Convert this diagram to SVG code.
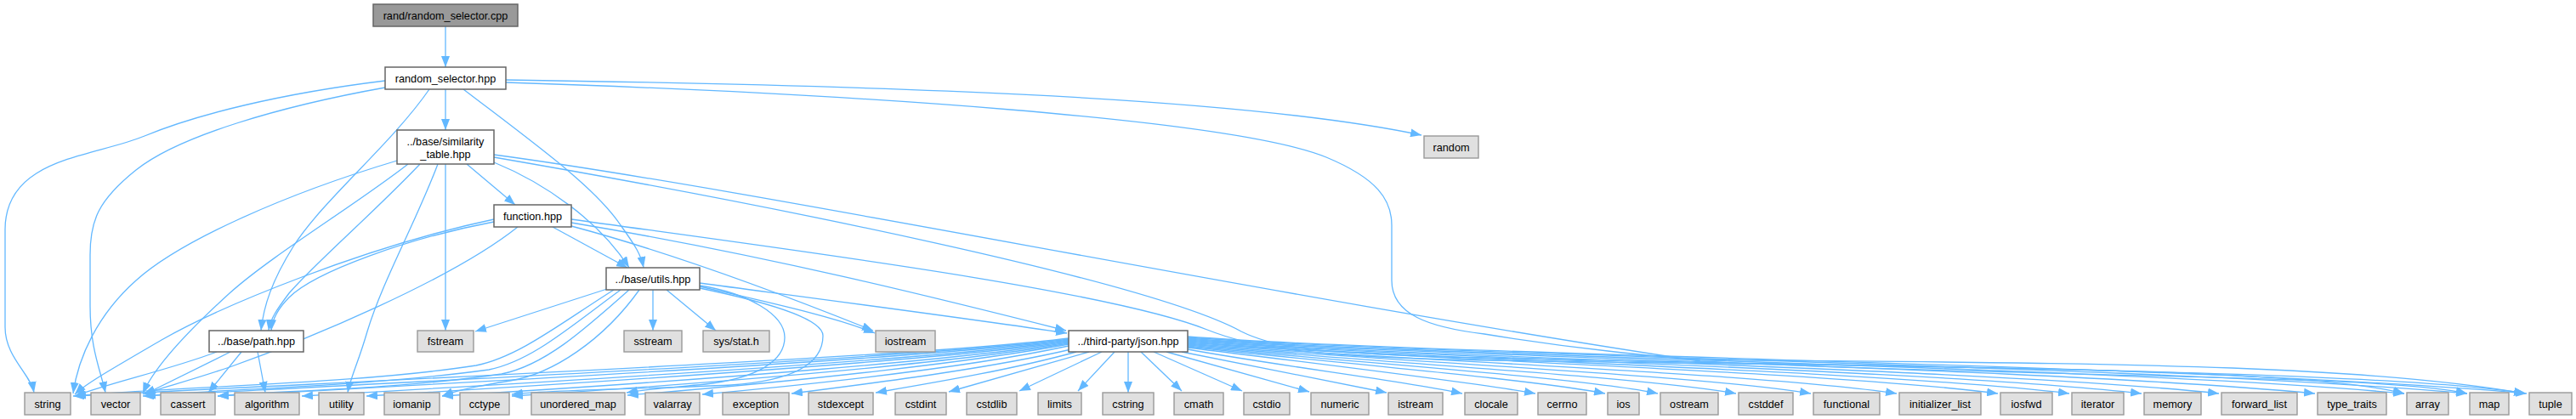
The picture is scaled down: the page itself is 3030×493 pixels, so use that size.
<svg xmlns="http://www.w3.org/2000/svg" width="3030" height="493" viewBox="0 0 3030 493">
<style>
.n{fill:#ffffff;stroke:#666666;stroke-width:1.5}
.x{fill:#e0e0e0;stroke:#999999;stroke-width:1.4}
.r{fill:#999999;stroke:#666666;stroke-width:1.5}
text{font-family:"Liberation Sans",Arial,Helvetica,sans-serif;font-size:12.7px;fill:#000000;text-anchor:middle}
#edges path{fill:none;stroke:#63b8ff;stroke-width:1.3;marker-end:url(#a)}
</style>
<defs>
<marker id="a" markerWidth="13" markerHeight="10" refX="13" refY="5" orient="auto" markerUnits="userSpaceOnUse">
<path d="M0,0 L13,5 L0,10 z" fill="#63b8ff" stroke="none"/>
</marker>
</defs>
<rect width="3030" height="493" fill="#ffffff"/>
<g id="edges">
<path d="M524,31 L524,79"/>
<path d="M524,105 L524,153"/>
<path d="M453,95 C 330,110 230,135 170,160 C 110,185 6,185 6,270 L 6,385 C 6,420 36,440 40,462"/>
<path d="M453,103 C 330,125 210,160 160,200 C 115,236 106,260 106,300 L 106,360 C 106,410 118,435 124,462"/>
<path d="M505,105 C 460,170 380,235 345,290 C 320,330 310,360 307,389"/>
<path d="M545,105 C 630,170 700,220 730,265 C 748,290 754,300 757,315"/>
<path d="M595,94 C 1000,100 1450,112 1672,159"/>
<path d="M595,97 C 1000,110 1450,140 1560,185 C 1620,210 1637,235 1637,265 L 1637,330 C 1637,370 1680,385 1746,393 C 1850,410 1950,420 2000,423 C 2400,428 2750,425 2970,463"/>
<path d="M549,193 L 606,241"/>
<path d="M524,193 L 524,389"/>
<path d="M515,193 C 490,260 450,330 432,390 C 422,425 412,445 409,462"/>
<path d="M494,193 C 440,250 370,310 340,345 C 325,365 318,375 316,389"/>
<path d="M480,193 C 420,240 320,300 270,345 C 215,395 180,435 168,463"/>
<path d="M467,189 C 330,230 210,285 160,330 C 115,370 92,420 86,463"/>
<path d="M581,191 C 640,215 705,260 740,315"/>
<path d="M581,182 C 900,225 1500,350 2000,425 C 2400,445 2800,440 2902,463"/>
<path d="M581,185 C 900,240 1350,330 1460,390 C 1500,410 1550,415 1700,420 C 2200,432 2800,435 2970,463"/>
<path d="M650,267 L 738,315"/>
<path d="M581,261 C 480,280 370,320 340,350 C 325,365 320,377 319,389"/>
<path d="M581,258 C 430,290 260,360 190,400 C 130,435 100,452 88,464"/>
<path d="M609,267 C 530,330 360,400 270,432 C 220,449 190,456 168,464"/>
<path d="M672,266 C 800,300 930,350 1027,389"/>
<path d="M672,262 C 900,300 1100,350 1254,389"/>
<path d="M672,258 C 900,290 1300,340 1420,388 C 1470,408 1530,418 1700,423 C 2200,432 2700,430 2828,463"/>
<path d="M714,340 L 559,390"/>
<path d="M768,341 L 768,389"/>
<path d="M784,341 L 842,389"/>
<path d="M823,337 C 900,355 980,372 1029,392"/>
<path d="M823,333 C 950,350 1120,372 1255,392"/>
<path d="M722,341 C 660,380 610,420 560,430 C 420,452 200,455 88,466"/>
<path d="M730,341 C 670,385 625,425 575,435 C 430,455 250,458 170,466"/>
<path d="M740,341 C 685,390 640,430 590,440 C 470,458 320,460 256,466"/>
<path d="M752,341 C 710,400 650,440 600,448 C 570,453 540,458 520,466"/>
<path d="M823,336 C 880,345 923,370 923,397 C 923,425 890,445 830,452 C 790,456 760,458 737,462"/>
<path d="M823,339 C 900,355 968,375 968,395 C 968,430 930,448 860,453 C 760,458 650,458 602,464"/>
<path d="M255,414 C 200,435 130,450 88,466"/>
<path d="M271,414 L 170,464"/>
<path d="M284,414 L 245,462"/>
<path d="M303,414 L 312,462"/>
<path d="M1257,398 C 1100,418 600,440 86,466"/>
<path d="M1257,399 C 1100,419 650,441 168,466"/>
<path d="M1257,400 C 1100,420 700,442 256,466"/>
<path d="M1257,401 C 1110,421 760,443 355,466"/>
<path d="M1257,402 C 1120,422 800,444 431,466"/>
<path d="M1257,403 C 1130,423 850,446 520,466"/>
<path d="M1257,404 C 1140,424 900,447 602,466"/>
<path d="M1257,405 C 1150,425 950,448 738,465"/>
<path d="M1257,407 C 1160,428 1000,448 826,464"/>
<path d="M1260,411 C 1170,432 1050,448 931,463"/>
<path d="M1266,414 C 1190,435 1100,450 1030,462"/>
<path d="M1281,414 L 1116,461"/>
<path d="M1296,414 L 1199,460"/>
<path d="M1311,414 L 1268,460"/>
<path d="M1327,414 L 1327,462"/>
<path d="M1342,414 L 1390,460"/>
<path d="M1357,414 L 1461,460"/>
<path d="M1372,414 L 1540,461"/>
<path d="M1390,414 L 1631,462"/>
<path d="M1397,411 C 1500,430 1650,448 1720,463"/>
<path d="M1397,409 C 1550,428 1720,448 1806,463"/>
<path d="M1397,408 C 1560,426 1800,446 1888,463"/>
<path d="M1397,407 C 1570,425 1860,444 1950,463"/>
<path d="M1397,406 C 1580,424 1920,442 2042,463"/>
<path d="M1397,405 C 1590,423 1990,440 2130,463"/>
<path d="M1397,404 C 1600,422 2060,438 2231,463"/>
<path d="M1397,403 C 1610,421 2140,436 2350,463"/>
<path d="M1397,402 C 1620,421 2200,435 2434,463"/>
<path d="M1397,401 C 1630,420 2260,434 2519,463"/>
<path d="M1397,400 C 1640,420 2330,433 2610,463"/>
<path d="M1397,399 C 1650,419 2400,432 2723,463"/>
<path d="M1397,398 C 1660,419 2480,431 2828,463"/>
<path d="M1397,397 C 1670,418 2540,430 2902,463"/>
<path d="M1397,396 C 1680,418 2600,429 2972,463"/>
</g>
<g id="n_cpp"><rect class="r" x="439" y="5" width="170" height="26"/><text x="524" y="22.5">rand/random_selector.cpp</text></g>
<g id="n_rs"><rect class="n" x="453" y="79" width="142" height="26"/><text x="524" y="96.5">random_selector.hpp</text></g>
<g id="n_sim"><rect class="n" x="467" y="153" width="114" height="40"/><text x="524" y="171">../base/similarity</text><text x="524" y="186">_table.hpp</text></g>
<g id="n_fn"><rect class="n" x="581" y="241" width="91" height="26"/><text x="626.5" y="258.5">function.hpp</text></g>
<g id="n_utils"><rect class="n" x="713" y="315" width="110" height="26"/><text x="768" y="332.5">../base/utils.hpp</text></g>
<g id="n_path"><rect class="n" x="246" y="389" width="111" height="25"/><text x="301.5" y="406">../base/path.hpp</text></g>
<g id="n_json"><rect class="n" x="1257" y="389" width="140" height="25"/><text x="1327" y="406">../third-party/json.hpp</text></g>
<g id="n_fstream"><rect class="x" x="491" y="389" width="66" height="25"/><text x="524" y="406">fstream</text></g>
<g id="n_sstream"><rect class="x" x="734" y="389" width="68" height="25"/><text x="768" y="406">sstream</text></g>
<g id="n_sysstat"><rect class="x" x="827" y="389" width="78" height="25"/><text x="866" y="406">sys/stat.h</text></g>
<g id="n_iostream"><rect class="x" x="1030" y="389" width="70" height="25"/><text x="1065" y="406">iostream</text></g>
<g id="n_random"><rect class="x" x="1675" y="160" width="64" height="26"/><text x="1707" y="177.5">random</text></g>
<g id="n_string"><rect class="x" x="29" y="462" width="54" height="26"/><text x="56" y="479.5">string</text></g>
<g id="n_vector"><rect class="x" x="107" y="462" width="58" height="26"/><text x="136" y="479.5">vector</text></g>
<g id="n_cassert"><rect class="x" x="189" y="462" width="64" height="26"/><text x="221" y="479.5">cassert</text></g>
<g id="n_algorithm"><rect class="x" x="276" y="462" width="76" height="26"/><text x="314" y="479.5">algorithm</text></g>
<g id="n_utility"><rect class="x" x="375" y="462" width="53" height="26"/><text x="401.5" y="479.5">utility</text></g>
<g id="n_iomanip"><rect class="x" x="452" y="462" width="65" height="26"/><text x="484.5" y="479.5">iomanip</text></g>
<g id="n_cctype"><rect class="x" x="541" y="462" width="58" height="26"/><text x="570" y="479.5">cctype</text></g>
<g id="n_unordered_map"><rect class="x" x="625" y="462" width="110" height="26"/><text x="680" y="479.5">unordered_map</text></g>
<g id="n_valarray"><rect class="x" x="759" y="462" width="64" height="26"/><text x="791" y="479.5">valarray</text></g>
<g id="n_exception"><rect class="x" x="850" y="462" width="78" height="26"/><text x="889" y="479.5">exception</text></g>
<g id="n_stdexcept"><rect class="x" x="951" y="462" width="76" height="26"/><text x="989" y="479.5">stdexcept</text></g>
<g id="n_cstdint"><rect class="x" x="1053" y="462" width="60" height="26"/><text x="1083" y="479.5">cstdint</text></g>
<g id="n_cstdlib"><rect class="x" x="1137" y="462" width="59" height="26"/><text x="1166.5" y="479.5">cstdlib</text></g>
<g id="n_limits"><rect class="x" x="1221" y="462" width="51" height="26"/><text x="1246.5" y="479.5">limits</text></g>
<g id="n_cstring"><rect class="x" x="1297" y="462" width="60" height="26"/><text x="1327" y="479.5">cstring</text></g>
<g id="n_cmath"><rect class="x" x="1381" y="462" width="58" height="26"/><text x="1410" y="479.5">cmath</text></g>
<g id="n_cstdio"><rect class="x" x="1463" y="462" width="54" height="26"/><text x="1490" y="479.5">cstdio</text></g>
<g id="n_numeric"><rect class="x" x="1542" y="462" width="68" height="26"/><text x="1576" y="479.5">numeric</text></g>
<g id="n_istream"><rect class="x" x="1633" y="462" width="64" height="26"/><text x="1665" y="479.5">istream</text></g>
<g id="n_clocale"><rect class="x" x="1723" y="462" width="62" height="26"/><text x="1754" y="479.5">clocale</text></g>
<g id="n_cerrno"><rect class="x" x="1809" y="462" width="57" height="26"/><text x="1837.5" y="479.5">cerrno</text></g>
<g id="n_ios"><rect class="x" x="1891" y="462" width="37" height="26"/><text x="1909.5" y="479.5">ios</text></g>
<g id="n_ostream"><rect class="x" x="1953" y="462" width="68" height="26"/><text x="1987" y="479.5">ostream</text></g>
<g id="n_cstddef"><rect class="x" x="2045" y="462" width="64" height="26"/><text x="2077" y="479.5">cstddef</text></g>
<g id="n_functional"><rect class="x" x="2133" y="462" width="78" height="26"/><text x="2172" y="479.5">functional</text></g>
<g id="n_initializer_list"><rect class="x" x="2234" y="462" width="96" height="26"/><text x="2282" y="479.5">initializer_list</text></g>
<g id="n_iosfwd"><rect class="x" x="2353" y="462" width="61" height="26"/><text x="2383.5" y="479.5">iosfwd</text></g>
<g id="n_iterator"><rect class="x" x="2437" y="462" width="61" height="26"/><text x="2467.5" y="479.5">iterator</text></g>
<g id="n_memory"><rect class="x" x="2522" y="462" width="67" height="26"/><text x="2555.5" y="479.5">memory</text></g>
<g id="n_forward_list"><rect class="x" x="2613" y="462" width="89" height="26"/><text x="2657.5" y="479.5">forward_list</text></g>
<g id="n_type_traits"><rect class="x" x="2726" y="462" width="81" height="26"/><text x="2766.5" y="479.5">type_traits</text></g>
<g id="n_array"><rect class="x" x="2831" y="462" width="49" height="26"/><text x="2855.5" y="479.5">array</text></g>
<g id="n_map"><rect class="x" x="2905" y="462" width="46" height="26"/><text x="2928" y="479.5">map</text></g>
<g id="n_tuple"><rect class="x" x="2975" y="462" width="50" height="26"/><text x="3000" y="479.5">tuple</text></g>
</svg>
